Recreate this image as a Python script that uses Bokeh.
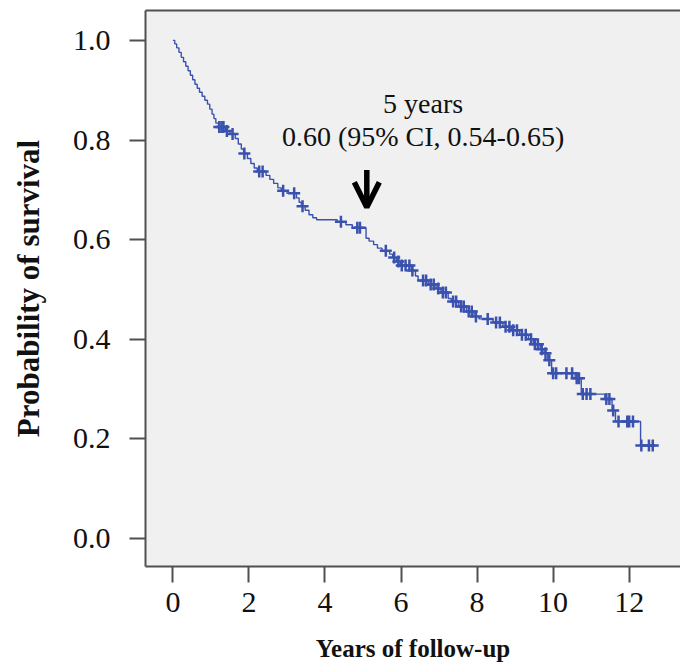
import numpy as np
from bokeh.plotting import figure
from bokeh.models import FixedTicker, Arrow, OpenHead, Label, PrintfTickFormatter, LinearAxis
from bokeh.embed import file_html
from bokeh.resources import INLINE

# Kaplan-Meier steps (years, survival after the event)
event_years = [0.00, 0.05, 0.10, 0.16, 0.22, 0.28, 0.34, 0.40, 0.46, 0.52,
               0.58, 0.64, 0.70, 0.77, 0.84, 0.91, 0.97, 1.03, 1.08, 1.13,
               1.20, 1.38, 1.50, 1.64, 1.72, 1.80, 1.86, 1.96, 2.05, 2.14,
               2.22, 2.45, 2.55, 2.65, 2.76, 2.85, 3.00, 3.25, 3.32, 3.38,
               3.48, 3.58, 3.68, 3.78, 4.32, 4.55, 4.72, 5.08, 5.16, 5.28,
               5.38, 5.50, 5.70, 5.78, 5.88, 5.98, 6.28, 6.38, 6.45, 6.72,
               6.92, 7.05, 7.24, 7.32, 7.52, 7.72, 7.92, 8.05, 8.42, 8.68,
               8.90, 9.12, 9.35, 9.48, 9.66, 9.76, 9.86, 9.96, 10.58, 10.74,
               11.36, 11.55, 11.64, 12.30]
survival = [1.000, 0.993, 0.985, 0.976, 0.966, 0.957, 0.948, 0.939, 0.930, 0.921,
            0.912, 0.904, 0.896, 0.888, 0.880, 0.872, 0.862, 0.852, 0.843, 0.834,
            0.826, 0.818, 0.812, 0.803, 0.792, 0.782, 0.773, 0.763, 0.753, 0.744,
            0.737, 0.729, 0.721, 0.713, 0.704, 0.698, 0.693, 0.684, 0.675, 0.667,
            0.659, 0.650, 0.644, 0.640, 0.636, 0.630, 0.624, 0.603, 0.597, 0.590,
            0.583, 0.578, 0.571, 0.564, 0.556, 0.548, 0.538, 0.527, 0.518, 0.510,
            0.502, 0.494, 0.482, 0.476, 0.466, 0.456, 0.446, 0.441, 0.434, 0.425,
            0.418, 0.409, 0.400, 0.390, 0.380, 0.372, 0.358, 0.332, 0.322, 0.290,
            0.280, 0.257, 0.235, 0.187]
censor_years = [1.22, 1.28, 1.33, 1.42, 1.57, 1.88, 2.27, 2.36, 2.90, 3.19,
                3.41, 4.42, 4.85, 4.92, 5.60, 5.82, 5.93, 6.02, 6.12, 6.22,
                6.30, 6.58, 6.66, 6.78, 6.86, 6.98, 7.10, 7.18, 7.37, 7.45,
                7.58, 7.65, 7.78, 7.86, 7.97, 8.28, 8.50, 8.60, 8.75, 8.85,
                8.95, 9.05, 9.18, 9.28, 9.42, 9.52, 9.60, 9.70, 9.80, 9.90,
                10.00, 10.08, 10.35, 10.50, 10.62, 10.68, 10.78, 10.88, 10.98,
                11.40, 11.48, 11.58, 11.72, 11.95, 12.00, 12.10, 12.32, 12.52, 12.62]
end_year = 12.70

x_ticks = [0, 2, 4, 6, 8, 10, 12]
y_ticks = [0.0, 0.2, 0.4, 0.6, 0.8, 1.0]

annot_year = 5.1
annot_lines = ["5 years", "0.60 (95% CI, 0.54-0.65)"]

BLUE = "#3a52ae"
FONT = "Liberation Serif"
FRAME = "#505050"

step_x = event_years + [end_year]
step_y = survival + [survival[-1]]
idx = np.searchsorted(np.array(event_years), np.array(censor_years), side="right") - 1
censor_surv = np.array(survival)[idx]

p = figure(width=680, height=664, x_range=(-0.72, 13.35), y_range=(-0.056, 1.06),
           output_backend="svg", toolbar_location=None,
           min_border_left=145, min_border_right=0, min_border_top=10, min_border_bottom=96)
p.background_fill_color = "#f0f0f0"
p.border_fill_color = "white"
p.outline_line_color = None
p.xgrid.visible = False
p.ygrid.visible = False

xa = p.below[0]
ya = p.left[0]
xa.ticker = FixedTicker(ticks=x_ticks)
ya.ticker = FixedTicker(ticks=y_ticks)
ya.formatter = PrintfTickFormatter(format="%.1f")
for ax in (xa, ya):
    ax.axis_line_color = FRAME
    ax.axis_line_width = 2
    ax.major_tick_line_color = FRAME
    ax.major_tick_line_width = 2
    ax.major_tick_in = 0
    ax.major_tick_out = 16
    ax.minor_tick_line_color = None
    ax.major_label_text_font = FONT
    ax.major_label_text_font_size = "30px"
    ax.major_label_text_color = "#111111"
    ax.axis_label_text_font = FONT
    ax.axis_label_text_font_style = "bold"
    ax.axis_label_text_color = "#111111"

xa.axis_label = "Years of follow-up"
xa.axis_label_text_font_size = "25px"
xa.major_label_standoff = 10
xa.axis_label_standoff = 20
ya.axis_label = "Probability of survival"
ya.axis_label_text_font_size = "31px"
ya.major_label_standoff = 19
ya.axis_label_standoff = 24

# top frame line (the right side is cut off in the original)
top = LinearAxis(ticker=FixedTicker(ticks=[]), axis_line_color=FRAME, axis_line_width=2,
                 major_tick_line_color=None, minor_tick_line_color=None,
                 major_tick_in=0, major_tick_out=0, major_label_standoff=0,
                 major_label_text_font_size="0px")
p.add_layout(top, "above")

p.step(step_x, step_y, mode="after", line_color=BLUE, line_width=1.4)
p.scatter(censor_years, censor_surv, marker="cross", size=12, line_width=2.5,
          line_color=BLUE)

p.add_layout(Label(x=6.58, y=0.874, text=annot_lines[0], text_align="center",
                   text_baseline="alphabetic", text_font=FONT, text_font_size="28px",
                   text_color="#111111"))
p.add_layout(Label(x=6.58, y=0.808, text=annot_lines[1], text_align="center",
                   text_baseline="alphabetic", text_font=FONT, text_font_size="28px",
                   text_color="#111111"))
p.add_layout(Arrow(end=OpenHead(size=25, line_width=5.5, line_color="black"),
                   x_start=annot_year, y_start=0.74, x_end=annot_year, y_end=0.665,
                   line_width=5.5, line_color="black"))

open("out.html", "w").write(file_html(p, INLINE))
